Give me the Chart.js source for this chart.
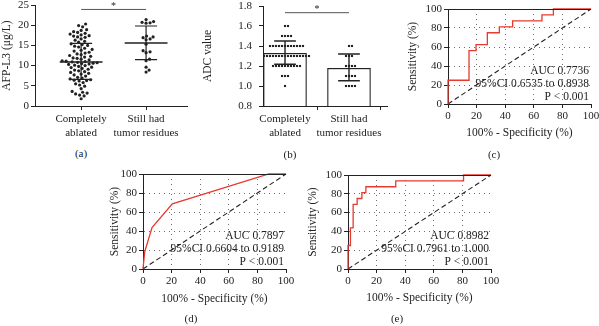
<!DOCTYPE html>
<html>
<head>
<meta charset="utf-8">
<script src="https://cdn.jsdelivr.net/npm/chart.js@4.4.0/dist/chart.umd.min.js"></script>
<style>
  body { margin: 0; width: 599px; height: 326px; overflow: hidden; position: relative; background: #fff;
         font-family: 'Liberation Serif', 'Times New Roman', serif; color: #222; }
  canvas { position: absolute; }
  .lab { position: absolute; font-size: 11px; line-height: 12px; transform: translate(-50%, -50%); white-space: nowrap; color: #222; }
</style>
</head>
<body>
<canvas id="ca" width="195" height="145" style="left:0;top:0"></canvas>
<canvas id="cb" width="200" height="145" style="left:195px;top:0"></canvas>
<canvas id="cc" width="209" height="145" style="left:390px;top:0"></canvas>
<canvas id="cd" width="200" height="166" style="left:100px;top:160px"></canvas>
<canvas id="ce" width="200" height="166" style="left:300px;top:160px"></canvas>
<div class="lab" style="left:81px;top:153px">(a)</div>
<div class="lab" style="left:290px;top:154px">(b)</div>
<div class="lab" style="left:494px;top:154px">(c)</div>
<div class="lab" style="left:191px;top:318px">(d)</div>
<div class="lab" style="left:397px;top:318px">(e)</div>
<script>
// ---- data ----
const catLines = [['Completely', 'ablated'], ['Still had', 'tumor residues']];

const afpTicks = [0, 5, 10, 15, 20, 25];
const afpCompletely = [20.3, 19.9, 19.6,
  18.9, 18.7, 18.4, 18.2, 18.0,
  17.8, 17.6, 17.4, 17.3, 17.1, 17.0,
  16.6, 16.3, 16.0, 15.8,
  15.4, 15.2, 15.0, 14.8, 14.6,
  14.3, 14.0, 13.8, 13.6,
  13.3, 13.1, 12.9, 12.7, 12.5,
  12.3, 12.1, 11.9, 11.8, 11.6,
  11.4, 11.2, 11.1, 11.0, 10.9, 10.8, 10.7, 10.6, 10.5, 10.4, 10.3,
  10.1, 10.0, 9.8, 9.6, 9.5,
  9.3, 9.1, 8.9, 8.7, 8.5,
  8.3, 8.1, 7.9, 7.7,
  7.4, 7.1, 6.9, 6.7, 6.5, 6.4, 6.3, 6.2,
  5.8, 5.5, 5.2, 4.9,
  4.3, 3.6, 3.4, 3.2, 3.0, 2.7, 2.5, 1.8];
const afpResidual = [21.4, 20.9, 20.7, 20.5, 20.6, 17.3, 17.1, 16.9, 16.6, 16.4,
  15.3, 13.7, 13.4, 13.2, 11.6, 11.2, 9.6, 8.9, 8.4];
const afpMean = [10.9, 15.6];
const afpSdLow = [6.6, 11.5];
const afpSdHigh = [15.5, 19.8];
const afpSig = 23.9;

const adcTicks = [0.8, 1.0, 1.2, 1.4, 1.6, 1.8];
const adcCompletely = [1.6, 1.6,
  1.5, 1.5, 1.5, 1.5,
  1.4, 1.4, 1.4, 1.4, 1.4, 1.4, 1.4, 1.4, 1.4, 1.4, 1.4, 1.4,
  1.3, 1.3, 1.3, 1.3, 1.3, 1.3, 1.3, 1.3, 1.3, 1.3, 1.3, 1.3, 1.3, 1.3, 1.3, 1.3,
  1.2, 1.2, 1.2, 1.2, 1.2, 1.2, 1.2, 1.2, 1.2, 1.2,
  1.1, 1.1, 1.1,
  1.0];
const adcResidual = [1.4, 1.4, 1.3, 1.3, 1.3, 1.2, 1.2, 1.2, 1.2,
  1.1, 1.1, 1.1, 1.1, 1.0, 1.0, 1.0, 1.0];
const adcMean = [1.327, 1.177];
const adcSdLow = [1.217, 1.053];
const adcSdHigh = [1.45, 1.32];
const adcSig = 1.733;

const rocTicks = [0, 20, 40, 60, 80, 100];
const rocCFpr  = [0, 0, 14.7, 14.7, 19.6, 19.6, 27.5, 27.5, 35.9, 35.9, 45.2, 45.2, 65.7, 65.7, 73.7, 73.7, 100];
const rocCSens = [0, 25, 25, 56.25, 56.25, 62.5, 62.5, 75, 75, 81.25, 81.25, 87.5, 87.5, 93.75, 93.75, 100, 100];
const rocCText = ['AUC 0.7736', '95%CI 0.6535 to 0.8938', 'P < 0.001'];
const rocDFpr  = [0, 1.2, 6.3, 20.5, 88, 100];
const rocDSens = [0, 18, 43.5, 68.5, 100, 100];
const rocDText = ['AUC 0.7897', '95%CI 0.6604 to 0.9189', 'P < 0.001'];
const rocEFpr  = [0, 0, 1.7, 1.7, 3.6, 3.6, 6.4, 6.4, 9.7, 9.7, 12.5, 12.5, 33.4, 33.4, 80.8, 80.8, 100];
const rocESens = [0, 25, 25, 43.75, 43.75, 68.75, 68.75, 75, 75, 81.25, 81.25, 87.5, 87.5, 93.75, 93.75, 100, 100];
const rocEText = ['AUC 0.8982', '95%CI 0.7961 to 1.000', 'P < 0.001'];

// ---- layout (page pixels) ----
const ink = '#222';
const FONT = "'Liberation Serif', 'Times New Roman', serif";
Chart.defaults.font.family = FONT;
Chart.defaults.font.size = 11;
Chart.defaults.color = ink;

const GA = {L: 0, T: 0, W: 195, H: 145, l: 35, t: 5, r: 187, b: 106, xmin: 0.29, xmax: 2.63, ytx: 7};
const GB = {L: 195, T: 0, W: 200, H: 145, l: 263, t: 6, r: 387, b: 106, xmin: 0.656, xmax: 2.594, ytx: 208};
const GC = {L: 390, T: 0, W: 209, H: 145, l: 448, t: 9, r: 591, b: 104, ytx: 413, xty: 133};
const GD = {L: 100, T: 160, W: 200, H: 166, l: 143, t: 174, r: 286, b: 269, ytx: 115, xty: 299};
const GE = {L: 300, T: 160, W: 200, H: 166, l: 348, t: 175, r: 491, b: 269, ytx: 313, xty: 298};

function layoutOf(g) {
  return {autoPadding: false, padding: {left: 0, top: g.t - g.T, right: g.L + g.W - g.r, bottom: 0}};
}

function rocGrid() {
  return {
    color: c => (c.tick && (c.tick.value === 0 || c.tick.value === 100)) ? 'rgba(0,0,0,0)' : '#6f6f6f',
    lineWidth: 1, tickLength: 4, tickColor: ink
  };
}

function yAxis(g, min, max, ticks, title, pad, fmt, roc) {
  return {
    type: 'linear', min, max,
    afterBuildTicks: s => { s.ticks = ticks.map(v => ({value: v})); },
    afterFit: s => { s.width = g.l - g.L; s.paddingTop = 0; s.paddingBottom = 0; },
    grid: roc ? rocGrid() : {drawOnChartArea: false, tickLength: 4, tickColor: ink},
    border: {color: ink, width: 1, dash: roc ? [1, 4] : []},
    ticks: {color: ink, padding: pad, callback: fmt},
    title: {display: true, text: title, color: ink, font: {size: 11.5, lineHeight: 1.2},
            padding: {top: g.ytx - g.L - 6.9, bottom: 0}}
  };
}

function catAxis(g) {
  return {
    type: 'linear', min: g.xmin, max: g.xmax,
    afterBuildTicks: s => { s.ticks = [{value: 1}, {value: 2}]; },
    afterFit: s => { s.height = g.T + g.H - g.b; s.paddingLeft = 0; s.paddingRight = 0; },
    grid: {drawOnChartArea: false, tickLength: 4, tickColor: ink},
    border: {color: ink, width: 1},
    ticks: {color: ink, padding: 3, maxRotation: 0, autoSkip: false, callback: (v, i) => catLines[i]}
  };
}

function rocXAxis(g) {
  return {
    type: 'linear', min: 0, max: 100,
    afterBuildTicks: s => { s.ticks = rocTicks.map(v => ({value: v})); },
    afterFit: s => { s.height = g.T + g.H - g.b; s.paddingLeft = 0; s.paddingRight = 0; },
    grid: rocGrid(),
    border: {color: ink, width: 1, dash: [1, 4]},
    ticks: {color: ink, padding: 2, maxRotation: 0, autoSkip: false},
    title: {display: true, text: '100% - Specificity (%)', color: ink, font: {size: 11.5, lineHeight: 1.2},
            padding: {top: 0, bottom: g.T + g.H - 6.9 - g.xty}}
  };
}

// line segments as one dataset, separated by gaps
function segs(list) {
  const out = [];
  list.forEach(s => { out.push({x: s[0], y: s[1]}, {x: s[2], y: s[3]}, {x: s[2], y: null}); });
  return out;
}

// simple beeswarm: place each value at the nearest free horizontal offset
function swarm(values, center, kx, ky, d) {
  const placed = [], out = [];
  const idx = values.map((v, i) => i).sort((a, b) => values[a] - values[b]);
  idx.forEach(i => {
    const py = values[i] * ky;
    let dx = 0;
    for (let k = 0; k < 600; k++) {
      const c = (k % 2 ? 1 : -1) * Math.ceil(k / 2) * 0.5;
      if (placed.every(p => (p.x - c) ** 2 + (p.y - py) ** 2 >= d * d - 1e-6)) { dx = c; break; }
    }
    placed.push({x: dx, y: py});
    out.push({x: center + dx / kx, y: values[i]});
  });
  return out;
}

const notes = {
  id: 'notes',
  afterDatasetsDraw(chart, args, o) {
    const {ctx, chartArea: a, scales} = chart;
    ctx.save();
    if (o.frameTop) {
      ctx.strokeStyle = ink; ctx.lineWidth = 1;
      ctx.beginPath(); ctx.moveTo(a.left, a.top + 0.5); ctx.lineTo(a.right, a.top + 0.5); ctx.stroke();
    }
    ctx.fillStyle = ink;
    ctx.font = '11.5px ' + FONT;
    ctx.textAlign = 'right'; ctx.textBaseline = 'middle';
    (o.lines || []).forEach((t, i) => ctx.fillText(t, a.right - 2, a.bottom - 33 + i * 13));
    if (o.star != null) {
      ctx.textAlign = 'center';
      ctx.font = '10px ' + FONT;
      ctx.fillText('*', scales.x.getPixelForValue(1.5), scales.y.getPixelForValue(o.star) - 3);
    }
    ctx.restore();
  }
};

const lineDs = (data, w, color, extra) => Object.assign({
  data, showLine: true, pointRadius: 0, borderColor: color || ink, borderWidth: w, spanGaps: false, clip: false
}, extra || {});

// ---- (a) AFP-L3 scatter ----
{
  const kx = (GA.r - GA.l) / (GA.xmax - GA.xmin), ky = (GA.b - GA.t) / 25;
  const sdSegs = [];
  afpMean.forEach((m, i) => {
    sdSegs.push([i + 1 - 0.17, afpSdLow[i], i + 1 + 0.17, afpSdLow[i]]);
    sdSegs.push([i + 1 - 0.17, afpSdHigh[i], i + 1 + 0.17, afpSdHigh[i]]);
    sdSegs.push([i + 1, afpSdLow[i], i + 1, afpSdHigh[i]]);
  });
  new Chart(document.getElementById('ca'), {
    type: 'scatter',
    data: {datasets: [
      {data: swarm(afpCompletely, 1, kx, ky, 3.9), pointRadius: 1.6, backgroundColor: ink, borderWidth: 0, clip: false},
      {data: swarm(afpResidual, 2, kx, ky, 3.6), pointRadius: 1.6, backgroundColor: ink, borderWidth: 0, clip: false},
      lineDs(segs(afpMean.map((m, i) => [i + 1 - 0.33, m, i + 1 + 0.33, m])), 1.5),
      lineDs(segs(sdSegs), 1.2),
      lineDs(segs([[1, afpSig, 2, afpSig]]), 1, '#555')
    ]},
    options: {
      responsive: false, animation: false, layout: layoutOf(GA),
      plugins: {legend: {display: false}, tooltip: {enabled: false}, notes: {star: afpSig}},
      scales: {
        x: catAxis(GA),
        y: yAxis(GA, 0, 25, afpTicks, 'AFP-L3 (\u03bcg/L)', 2)
      }
    },
    plugins: [notes]
  });
}

// ---- (b) ADC bars ----
{
  const kx = (GB.r - GB.l) / (GB.xmax - GB.xmin), ky = (GB.b - GB.t) / 1.0;
  const sdSegs = [];
  adcMean.forEach((m, i) => {
    sdSegs.push([i + 1 - 0.17, adcSdLow[i], i + 1 + 0.17, adcSdLow[i]]);
    sdSegs.push([i + 1 - 0.17, adcSdHigh[i], i + 1 + 0.17, adcSdHigh[i]]);
    sdSegs.push([i + 1, adcSdLow[i], i + 1, adcSdHigh[i]]);
  });
  new Chart(document.getElementById('cb'), {
    type: 'scatter',
    data: {datasets: [
      {type: 'bar', data: adcMean.map((m, i) => ({x: i + 1, y: m})), barThickness: 43, grouped: false,
       backgroundColor: '#fff', borderColor: ink, borderWidth: 1.2, borderSkipped: 'bottom', order: 5},
      {data: swarm(adcCompletely, 1, kx, ky, 3), pointStyle: 'rect', pointRadius: 1.5, backgroundColor: ink, borderWidth: 0, order: 1},
      {data: swarm(adcResidual, 2, kx, ky, 3), pointStyle: 'rect', pointRadius: 1.5, backgroundColor: ink, borderWidth: 0, order: 1},
      lineDs(segs(sdSegs), 1.4, ink, {order: 0}),
      lineDs(segs([[1, adcSig, 2, adcSig]]), 1, '#555', {order: 0})
    ]},
    options: {
      responsive: false, animation: false, layout: layoutOf(GB),
      plugins: {legend: {display: false}, tooltip: {enabled: false}, notes: {star: adcSig}},
      scales: {
        x: Object.assign(catAxis(GB), {offset: false}),
        y: yAxis(GB, 0.8, 1.8, adcTicks, 'ADC value', 7, v => v.toFixed(1))
      }
    },
    plugins: [notes]
  });
}

// ---- (c)(d)(e) ROC curves ----
function roc(id, g, fpr, sens, text) {
  new Chart(document.getElementById(id), {
    type: 'scatter',
    data: {datasets: [
      lineDs(fpr.map((x, i) => ({x, y: sens[i]})), 1.3, '#e8392f', {order: 0}),
      lineDs([{x: 0, y: 0}, {x: 100, y: 100}], 1.1, ink, {borderDash: [5, 3], order: 1})
    ]},
    options: {
      responsive: false, animation: false, layout: layoutOf(g),
      plugins: {legend: {display: false}, tooltip: {enabled: false}, notes: {frameTop: true, lines: text}},
      scales: {
        x: rocXAxis(g),
        y: yAxis(g, 0, 100, rocTicks, 'Sensitivity (%)', 2, undefined, true)
      }
    },
    plugins: [notes]
  });
}
roc('cc', GC, rocCFpr, rocCSens, rocCText);
roc('cd', GD, rocDFpr, rocDSens, rocDText);
roc('ce', GE, rocEFpr, rocESens, rocEText);
</script>
</body>
</html>
